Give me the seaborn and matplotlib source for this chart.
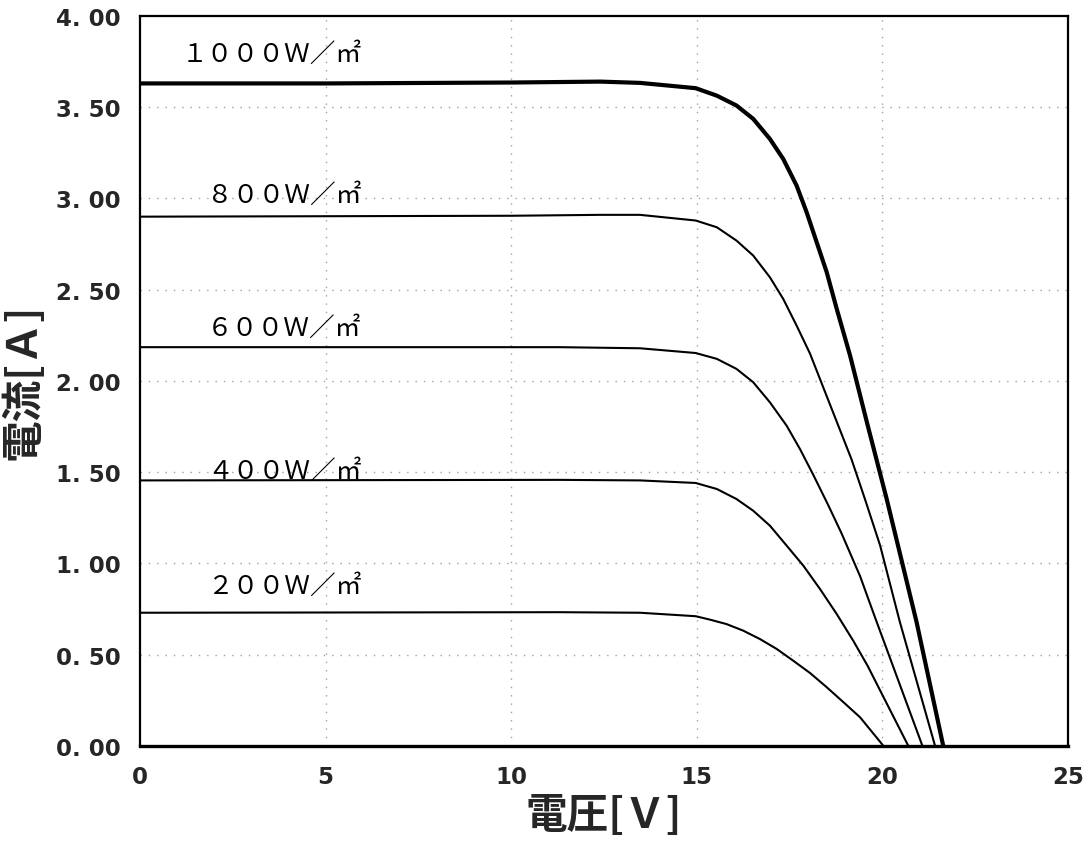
import matplotlib
matplotlib.use("Agg")
import matplotlib.pyplot as plt
import seaborn as sns
import pandas as pd
import numpy as np

# values
v_1000 = [0.0, 5.0, 10.0, 12.4, 13.47, 14.97, 15.54, 16.07, 16.52, 16.97, 17.33, 17.69, 17.96,
          18.23, 18.50, 18.77, 19.13, 19.6, 20.12, 20.92, 21.64]
i_1000 = [3.63, 3.63, 3.635, 3.64, 3.633, 3.604, 3.563, 3.509, 3.436, 3.326, 3.216, 3.070, 2.924,
          2.760, 2.596, 2.395, 2.139, 1.76, 1.35, 0.68, 0.0]

v_800 = [0.0, 10.0, 12.4, 13.47, 14.97, 15.54, 16.07, 16.52, 16.97, 17.33, 17.69, 18.05, 18.6,
         19.17, 19.53, 19.94, 20.47, 21.42]
i_800 = [2.90, 2.905, 2.91, 2.91, 2.879, 2.842, 2.769, 2.687, 2.568, 2.449, 2.303, 2.150, 1.865,
         1.57, 1.353, 1.098, 0.68, 0.0]

v_600 = [0.0, 11.31, 13.47, 14.97, 15.54, 16.07, 16.52, 16.97, 17.42, 17.78, 18.14, 18.54, 18.90,
         19.40, 19.81, 21.08]
i_600 = [2.185, 2.185, 2.179, 2.153, 2.121, 2.066, 1.993, 1.883, 1.755, 1.627, 1.485, 1.32, 1.165,
         0.93, 0.70, 0.0]

v_400 = [0.0, 11.31, 13.47, 14.97, 15.54, 16.07, 16.52, 16.97, 17.42, 17.87, 18.32, 18.77, 19.22,
         19.60, 20.70]
i_400 = [1.455, 1.458, 1.455, 1.441, 1.408, 1.353, 1.289, 1.207, 1.098, 0.988, 0.860, 0.723, 0.575,
         0.44, 0.0]

v_200 = [0.0, 11.31, 13.47, 14.97, 15.36, 15.80, 16.25, 16.70, 17.15, 17.60, 18.05, 18.50, 18.95,
         19.40, 20.03]
i_200 = [0.73, 0.733, 0.73, 0.711, 0.692, 0.668, 0.632, 0.586, 0.532, 0.467, 0.40, 0.322, 0.24,
         0.157, 0.0]

labels = ["１０００Ｗ／㎡", "８００Ｗ／㎡", "６００Ｗ／㎡", "４００Ｗ／㎡", "２００Ｗ／㎡"]
label_x = [1.12, 1.80, 1.80, 1.80, 1.80]
label_y = [3.79, 3.02, 2.29, 1.51, 0.875]

x_ticks = [0, 5, 10, 15, 20, 25]
y_ticks = [0.0, 0.5, 1.0, 1.5, 2.0, 2.5, 3.0, 3.5, 4.0]

curves = [(v_1000, i_1000, 3.0), (v_800, i_800, 1.5), (v_600, i_600, 1.5),
          (v_400, i_400, 1.5), (v_200, i_200, 1.5)]

sns.set_theme(style="white")
plt.rcParams['font.family'] = ['Noto Sans CJK JP', 'DejaVu Sans']

fig = plt.figure(figsize=(10.9, 8.45), dpi=100)
ax = fig.add_axes([0.1284, 0.116, 0.8514, 0.864])

for v, i, lw in curves:
    df = pd.DataFrame({"V": v, "I": i})
    sns.lineplot(data=df, x="V", y="I", ax=ax, color="black", lw=lw, sort=False, estimator=None)

for txt, tx, ty in zip(labels, label_x, label_y):
    ax.text(tx, ty, txt, fontsize=18.5, va="center", ha="left", color="black")

ax.set_xlim(0, 25)
ax.set_ylim(0, 4)
ax.set_xticks(x_ticks)
ax.set_yticks(y_ticks)
tick_font = dict(family="DejaVu Sans", fontweight="bold", fontsize=16.5)
ax.set_xticklabels([str(t) for t in x_ticks], **tick_font)
ax.set_yticklabels([f"{t:.2f}".replace(".", ". ") for t in y_ticks], **tick_font)
ax.tick_params(axis="x", length=0, pad=14)
ax.tick_params(axis="y", length=0, pad=14)

# dotted grid
for gx in [5, 10, 15, 20]:
    ax.axvline(gx, color="#a0a0a0", lw=1, ls=(0, (1, 5)), zorder=0)
for gy in [0.5, 1.0, 1.5, 2.0, 2.5, 3.0, 3.5]:
    ax.axhline(gy, color="#a0a0a0", lw=1, ls=(0, (1, 5)), zorder=0)

for s in ax.spines.values():
    s.set_color("black")
    s.set_linewidth(1.6)
ax.spines["bottom"].set_linewidth(2.4)

ax.set_xlabel("電圧[Ｖ]", fontsize=30, fontweight="bold", labelpad=4)
ax.set_ylabel("電流[Ａ]", fontsize=30, fontweight="bold", labelpad=8)

fig.savefig("out.png", dpi=100, facecolor="white")
